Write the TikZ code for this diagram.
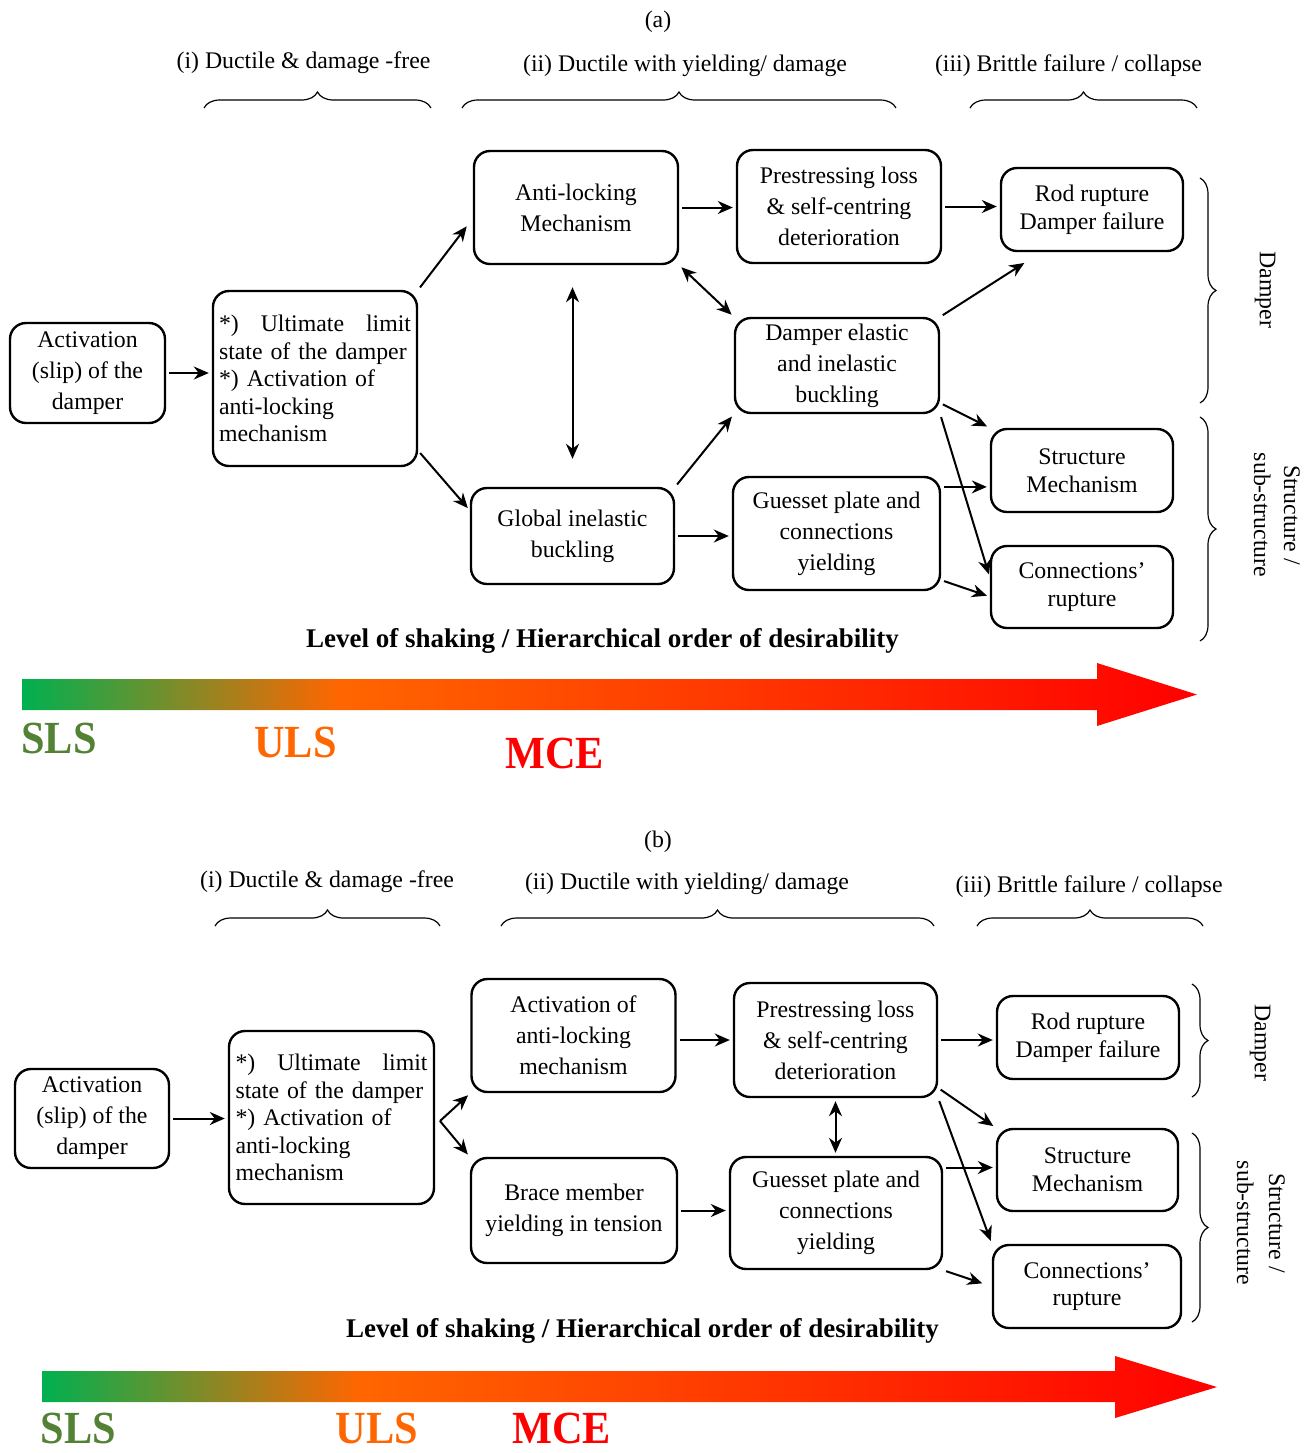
\documentclass[tikz,border=0pt]{standalone}
\usepackage{fontspec}
\setmainfont{Liberation Serif}
\usepackage{graphicx}
\usepackage{tikz}
\usetikzlibrary{arrows.meta,shapes,decorations.pathreplacing}
\definecolor{slsgreen}{RGB}{84,130,53}
\definecolor{gradgreen}{RGB}{0,176,80}
\definecolor{ulsorange}{RGB}{255,102,0}
\definecolor{mcered}{RGB}{255,0,0}
\pgfdeclarehorizontalshading{levelshade}{100bp}{color(0bp)=(gradgreen); color(25bp)=(gradgreen); color(38.5bp)=(ulsorange); color(75bp)=(mcered); color(100bp)=(mcered)}
\tikzstyle{box} = [draw, line width=1.2pt, rounded corners=8pt, align=center, inner sep=2pt]
\tikzstyle{loose} = [font=\fontsize{11.9}{15.5}\selectfont]
\tikzstyle{tight} = [font=\fontsize{11.9}{13.8}\selectfont]
\tikzstyle{arrow} = [line width=1pt,->,>={Stealth[length=7.5pt,width=6.5pt]},shorten >=1.5pt,shorten <=1.5pt]
\tikzstyle{twoway} = [arrow,<->]
\tikzstyle{grp} = [decorate,decoration={brace,amplitude=8pt},line width=0.6pt]
\tikzstyle{lvltag} = [font=\fontsize{23}{25}\selectfont\bfseries]
\tikzstyle{shaking} = [font=\fontsize{13.5}{15}\selectfont\bfseries]

\begin{document}
\begin{tikzpicture}[x=0.5pt,y=-0.5pt,font=\fontsize{11.9}{14}\selectfont]
\useasboundingbox (0,0) rectangle (1312,1453);
% (a) headers
\node (taga) at (658,22) {(a)};
\node (phia1) at (303.5,63) {(i) Ductile \& damage -free};
\node (phia2) at (685,66) {(ii) Ductile with yielding/ damage};
\node (phia3) at (1068.5,66) {(iii) Brittle failure / collapse};
\draw[grp] (204,108) -- (431,108);
\draw[grp] (462,108) -- (896,108);
\draw[grp] (970,108) -- (1197,108);
% (a) boxes
\node[box,loose,minimum width=77.5pt,minimum height=50pt] (act) at (87.5,373) {Activation\\(slip) of the\\damper};
\node[box,tight,minimum width=102pt,minimum height=87.5pt,text width=96pt,align=left] (ult) at (315,378.5) {*)\hfill Ultimate\hfill limit\\state of the damper\\{}*) Activation of\\anti-locking\\mechanism};
\node[box,loose,minimum width=102pt,minimum height=56.5pt] (anti) at (576,207.5) {Anti-locking\\Mechanism};
\node[box,loose,minimum width=101.5pt,minimum height=48pt] (glob) at (572.5,536) {Global inelastic\\buckling};
\node[box,loose,minimum width=102pt,minimum height=56.5pt] (pre) at (839,206.5) {Prestressing loss\\\& self-centring\\deterioration};
\node[box,loose,minimum width=102pt,minimum height=47.5pt] (delas) at (837,365.5) {Damper elastic\\and inelastic\\buckling};
\node[box,loose,minimum width=103.5pt,minimum height=56.5pt] (guss) at (836.5,533.5) {Guesset plate and\\connections\\yielding};
\node[box,tight,minimum width=91pt,minimum height=41.5pt] (rod) at (1092,209.5) {Rod rupture\\Damper failure};
\node[box,tight,minimum width=91pt,minimum height=41.5pt] (struc) at (1082,470.5) {Structure\\Mechanism};
\node[box,tight,minimum width=91pt,minimum height=41pt] (conn) at (1082,587) {Connections’\\rupture};
% (a) arrows
\draw[arrow] (act.east) -- (act.east -| ult.west);
\draw[arrow,shorten >=5pt] (ult.north east) -- (anti.186);
\draw[arrow] (ult.-35) -- (glob.166);
\draw[twoway,shorten <=11pt,shorten >=14pt] (glob.north |- anti.south) -- (glob.north);
\draw[arrow] (anti.east) -- (anti.east -| pre.west);
\draw[twoway] (anti.south east) -- (delas.north west);
\draw[arrow] (pre.east) -- (pre.east -| rod.west);
\draw[arrow,shorten >=10pt] (delas.north east) -- (rod.220);
\draw[arrow] (glob.north east) -- (delas.south west);
\draw[arrow] (glob.east) -- (glob.east -| guss.west);
\draw[arrow] (delas.-20) -- (struc.north west);
\draw[arrow] (delas.south east) -- (conn.174);
\draw[arrow] (guss.24) -- (guss.24 -| struc.west);
\draw[arrow] (guss.-24) -- (conn.186);
% (a) groups on the right
\draw[grp] (1200,178) -- (1200,403);
\draw[grp] (1200,417) -- (1200,641);
\node[rotate=-90] (dampa) at (1265,290) {Damper};
\node[rotate=-90,align=center,font=\fontsize{11.9}{15}\selectfont] (subsa) at (1277,515) {Structure /\\sub-structure};
% (a) level of shaking
\node[shaking] (levela) at (602.5,641) {Level of shaking / Hierarchical order of desirability};
\shade[shading=levelshade] (22,679) -- (1097,679) -- (1097,663) -- (1197,694.5) -- (1097,726) -- (1097,710) -- (22,710) -- cycle;
\node[lvltag,text=slsgreen] (slsa) at (59,738.5) {\scalebox{0.92}[1]{SLS}};
\node[lvltag,text=ulsorange] (ulsa) at (295.5,742.5) {\scalebox{0.92}[1]{ULS}};
\node[lvltag,text=mcered] (mcea) at (554.5,753) {\scalebox{0.92}[1]{MCE}};

% (b) headers
\node (tagb) at (658,842) {(b)};
\node (phib1) at (327,882) {(i) Ductile \& damage -free};
\node (phib2) at (687,884) {(ii) Ductile with yielding/ damage};
\node (phib3) at (1089,887) {(iii) Brittle failure / collapse};
\draw[grp] (215,926) -- (440,926);
\draw[grp] (501,926) -- (934,926);
\draw[grp] (977,926) -- (1203,926);
% (b) boxes
\node[box,loose,minimum width=77pt,minimum height=49.5pt] (act2) at (92,1118.5) {Activation\\(slip) of the\\damper};
\node[box,tight,minimum width=102.5pt,minimum height=86.5pt,text width=96pt,align=left] (ult2) at (331.5,1117.5) {*)\hfill Ultimate\hfill limit\\state of the damper\\{}*) Activation of\\anti-locking\\mechanism};
\node[box,loose,minimum width=102pt,minimum height=56.5pt] (antiact) at (573.5,1035.5) {Activation of\\anti-locking\\mechanism};
\node[box,loose,minimum width=103pt,minimum height=52.5pt] (brace2) at (574,1210.5) {Brace member\\yielding in tension};
\node[box,loose,minimum width=101.5pt,minimum height=57pt] (pre2) at (835.5,1040) {Prestressing loss\\\& self-centring\\deterioration};
\node[box,loose,minimum width=106pt,minimum height=56pt] (guss2) at (836,1213) {Guesset plate and\\connections\\yielding};
\node[box,tight,minimum width=91pt,minimum height=41.5pt] (rod2) at (1088,1037.5) {Rod rupture\\Damper failure};
\node[box,tight,minimum width=90.5pt,minimum height=41pt] (struc2) at (1087.5,1170) {Structure\\Mechanism};
\node[box,tight,minimum width=94pt,minimum height=41.5pt] (conn2) at (1087,1286.5) {Connections’\\rupture};
% (b) arrows
\coordinate (fork) at (440,1121);
\draw[arrow] (act2.east) -- (act2.east -| ult2.west);
\draw[arrow,shorten <=0pt] (fork) -- (antiact.south west);
\draw[arrow,shorten <=0pt] (fork) -- (brace2.north west);
\draw[arrow] (pre2.west -| antiact.east) -- (pre2.west);
\draw[twoway] (pre2.south) -- (pre2.south |- guss2.north);
\draw[arrow] (pre2.east) -- (pre2.east -| rod2.west);
\draw[arrow] (pre2.-25) -- (struc2.north west);
\draw[arrow] (pre2.south east) -- (conn2.north west);
\draw[arrow] (brace2.east) -- (brace2.east -| guss2.west);
\draw[arrow] (guss2.23) -- (guss2.23 -| struc2.west);
\draw[arrow,shorten >=5pt] (guss2.south east) -- (conn2.west);
% (b) groups on the right
\draw[grp] (1192,984) -- (1192,1097);
\draw[grp] (1192,1133) -- (1192,1322);
\node[rotate=-90] (dampb) at (1260,1043) {Damper};
\node[rotate=-90,align=center,font=\fontsize{11.9}{16}\selectfont] (subsb) at (1261,1223) {Structure /\\sub-structure};
% (b) level of shaking
\node[shaking] (levelb) at (642.5,1331) {Level of shaking / Hierarchical order of desirability};
\shade[shading=levelshade] (42,1371) -- (1115,1371) -- (1115,1356) -- (1217,1387) -- (1115,1418) -- (1115,1402) -- (42,1402) -- cycle;
\node[lvltag,text=slsgreen] (slsb) at (78.5,1428) {\scalebox{0.92}[1]{SLS}};
\node[lvltag,text=ulsorange] (ulsb) at (377,1428) {\scalebox{0.92}[1]{ULS}};
\node[lvltag,text=mcered] (mceb) at (561.5,1428) {\scalebox{0.92}[1]{MCE}};
\end{tikzpicture}
\end{document}
